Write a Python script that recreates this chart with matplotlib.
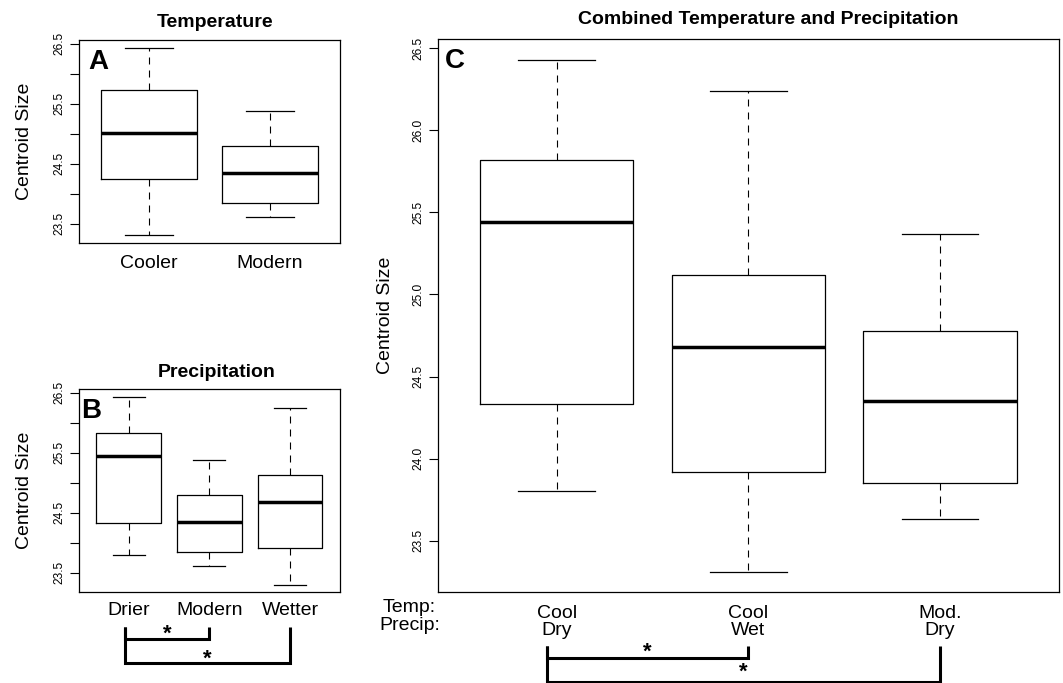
import numpy as np
import matplotlib
matplotlib.use('Agg')
import matplotlib.pyplot as plt
from matplotlib import transforms

plt.rcParams['font.family'] = ['Liberation Sans', 'DejaVu Sans']

W, H = 1063, 683

# panel A: temperature (whisker low, q1, median, q3, whisker high)
temp_groups = ['Cooler', 'Modern']
temp_low = [23.30, 23.61]
temp_q1 = [24.24, 23.84]
temp_med = [25.01, 24.35]
temp_q3 = [25.73, 24.79]
temp_high = [26.44, 25.38]

# panel B: precipitation
precip_groups = ['Drier', 'Modern', 'Wetter']
precip_low = [23.79, 23.62, 23.30]
precip_q1 = [24.33, 23.85, 23.92]
precip_med = [25.44, 24.35, 24.68]
precip_q3 = [25.82, 24.79, 25.12]
precip_high = [26.43, 25.38, 26.24]
precip_sig = [(1, 2), (1, 3)]

# panel C: combined
comb_temp = ['Cool', 'Cool', 'Mod.']
comb_precip = ['Dry', 'Wet', 'Dry']
comb_low = [23.80, 23.31, 23.63]
comb_q1 = [24.33, 23.92, 23.85]
comb_med = [25.44, 24.68, 24.35]
comb_q3 = [25.82, 25.12, 24.78]
comb_high = [26.43, 26.24, 25.37]
comb_sig = [(1, 2), (1, 3)]

yticks = [23.5, 24.0, 24.5, 25.0, 25.5, 26.0, 26.5]


def px_axes(left, top, right, bottom):
    return fig.add_axes([left / W, 1 - bottom / H, (right - left) / W, (bottom - top) / H])


def draw_boxes(ax, low, q1, med, q3, high, names, all_labels=True):
    n = len(low)
    stats = []
    for i in range(n):
        stats.append(dict(whislo=low[i], q1=q1[i], med=med[i], q3=q3[i],
                          whishi=high[i], fliers=[]))
    ax.bxp(stats, positions=range(1, n + 1), widths=0.8, capwidths=0.4,
           showfliers=False,
           boxprops=dict(color='black', lw=0.9),
           medianprops=dict(color='black', lw=2.5, solid_capstyle='butt'),
           whiskerprops=dict(color='black', lw=0.8, ls=(0, (6.3, 5.4))),
           capprops=dict(color='black', lw=0.9))
    # R style limits: 4% padding
    span = max(high) - min(low)
    ax.set_ylim(min(low) - 0.04 * span, max(high) + 0.04 * span)
    ax.set_xlim(0.5 - 0.04 * n, n + 0.5 + 0.04 * n)
    ax.set_yticks(yticks)
    if all_labels:
        ax.set_yticklabels(['%.1f' % t for t in yticks])
    else:
        ax.set_yticklabels(['%.1f' % t if i % 2 == 0 else '' for i, t in enumerate(yticks)])
    ax.set_xticks(range(1, n + 1))
    ax.set_xticklabels(names)
    ax.tick_params(axis='y', length=6.5, width=0.8, pad=3.3, labelsize=8.6)
    ax.tick_params(axis='x', length=0, labelsize=14)
    plt.setp(ax.get_yticklabels(), rotation=90, va='center', ha='right')
    for s in ax.spines.values():
        s.set_linewidth(0.9)
    ax.set_ylabel('Centroid Size', fontsize=14)


def draw_sig(ax, pairs, tops, levels, stars):
    tr = transforms.blended_transform_factory(ax.transData, fig.transFigure)
    for (a, b), top, lev, star in zip(pairs, tops, levels, stars):
        xa = a - 0.05
        ax.plot([xa, xa, b, b], [1 - top / H, 1 - lev / H, 1 - lev / H, 1 - top / H],
                color='black', lw=2.2, transform=tr, clip_on=False,
                solid_joinstyle='miter', solid_capstyle='butt')
        ax.text((xa + b) / 2, 1 - star / H, '*', transform=tr, ha='center',
                va='baseline', fontsize=16, fontweight='bold')


fig = plt.figure(figsize=(W / 100, H / 100), dpi=100)

# A
axA = px_axes(79, 40, 340, 243)
draw_boxes(axA, temp_low, temp_q1, temp_med, temp_q3, temp_high, temp_groups, all_labels=False)
axA.tick_params(axis='x', pad=8.6)
axA.yaxis.set_label_coords(-0.176, 0.5)
axA.set_title('Temperature', fontsize=14, fontweight='bold', x=0.521, pad=9.6)
axA.text(0.034, 0.956, 'A', transform=axA.transAxes, fontsize=20, fontweight='bold',
         ha='left', va='top')

# B
axB = px_axes(78.7, 389.3, 340, 592.3)
draw_boxes(axB, precip_low, precip_q1, precip_med, precip_q3, precip_high, precip_groups,
           all_labels=False)
axB.tick_params(axis='x', pad=6.7)
axB.yaxis.set_label_coords(-0.175, 0.5)
axB.set_title('Precipitation', fontsize=14, fontweight='bold', x=0.529, pad=9.1)
axB.text(0.01, 0.956, 'B', transform=axB.transAxes, fontsize=20, fontweight='bold',
         ha='left', va='top')
draw_sig(axB, precip_sig, [626.7, 626.7], [638.7, 662.7], [640, 665])

# C
axC = px_axes(437.7, 39.3, 1059, 592.3)
comb_labels = [t + '\n' + p for t, p in zip(comb_temp, comb_precip)]
draw_boxes(axC, comb_low, comb_q1, comb_med, comb_q3, comb_high, comb_labels)
axC.tick_params(axis='x', pad=8.8)
for lab in axC.get_xticklabels():
    lab.set_linespacing(1.04)
axC.yaxis.set_label_coords(-0.071, 0.5)
axC.set_title('Combined Temperature and Precipitation', fontsize=14, fontweight='bold',
              x=0.532, pad=10.8)
axC.text(0.012, 0.985, 'C', transform=axC.transAxes, fontsize=20, fontweight='bold',
         ha='left', va='top')
axC.annotate('Temp:\nPrecip:', xy=(0.233, 0), xycoords=('data', 'axes fraction'),
             xytext=(0, -5), textcoords='offset points', ha='center', va='top',
             fontsize=14, linespacing=1.04, annotation_clip=False)
draw_sig(axC, comb_sig, [646, 646], [657.7, 681.7], [658, 678])

fig.savefig('out.png', dpi=100)
